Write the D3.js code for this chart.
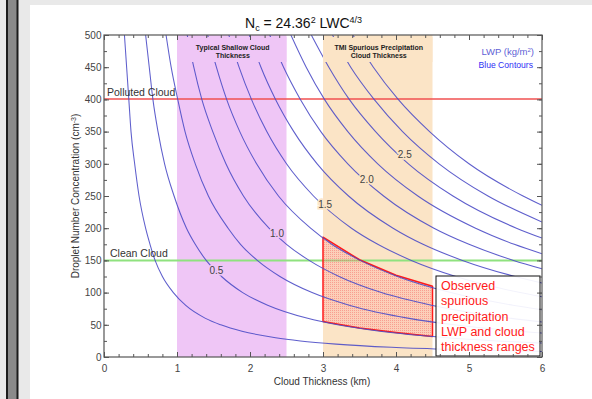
<!DOCTYPE html>
<html>
<head>
<meta charset="utf-8">
<script src="https://cdn.jsdelivr.net/npm/d3@7"></script>
<style>
  body { margin: 0; background: #e9e9e9; }
  svg { display: block; font-family: "Liberation Sans", Arial, Helvetica, sans-serif; }
</style>
</head>
<body>
<svg width="592" height="399"></svg>
<script>
// LWP contour levels (kg/m2) and points: [thickness km, Nc cm-3]
const lwpLevels = [0.25, 0.5, 0.75, 1.0, 1.25, 1.5, 1.75, 2.0, 2.25, 2.5, 2.75, 3.0];
const contourPoints = [
  [[0.28,500],[0.31,450],[0.34,400],[0.37,350],[0.42,300],[0.48,250],[0.57,200],[0.63,175],[0.70,150],[0.80,125],[0.95,100],[1.12,80],[1.39,60],[1.60,50],[1.89,40],[2.35,30],[2.69,25],[3.18,20],[3.94,15],[4.66,12],[6,8.6]],
  [[0.57,500],[0.62,450],[0.67,400],[0.74,350],[0.83,300],[0.96,250],[1.13,200],[1.25,175],[1.40,150],[1.61,125],[1.90,100],[2.25,80],[2.79,60],[3.20,50],[3.78,40],[4.69,30],[5.38,25],[6,21.6]],
  [[0.85,500],[0.92,450],[1.01,400],[1.11,350],[1.25,300],[1.43,250],[1.70,200],[1.87,175],[2.10,150],[2.41,125],[2.85,100],[3.37,80],[4.18,60],[4.80,50],[5.67,40],[6,37.1]],
  [[1.14,500],[1.23,450],[1.34,400],[1.49,350],[1.67,300],[1.91,250],[2.26,200],[2.50,175],[2.81,150],[3.22,125],[3.80,100],[4.50,80],[5.58,60],[6,54.4]],
  [[1.42,500],[1.54,450],[1.68,400],[1.86,350],[2.09,300],[2.39,250],[2.83,200],[3.12,175],[3.51,150],[4.02,125],[4.75,100],[5.62,80],[6,73.3]],
  [[1.71,500],[1.85,450],[2.02,400],[2.23,350],[2.50,300],[2.87,250],[3.39,200],[3.75,175],[4.21,150],[4.82,125],[5.70,100],[6,93.4]],
  [[1.99,500],[2.15,450],[2.35,400],[2.60,350],[2.92,300],[3.35,250],[3.96,200],[4.37,175],[4.91,150],[5.63,125],[6,114.8]],
  [[2.27,500],[2.46,450],[2.69,400],[2.97,350],[3.34,300],[3.83,250],[4.52,200],[5.00,175],[5.61,150],[6,137.1]],
  [[2.56,500],[2.77,450],[3.02,400],[3.34,350],[3.75,300],[4.30,250],[5.09,200],[5.62,175],[6,160.4]],
  [[2.84,500],[3.08,450],[3.36,400],[3.72,350],[4.17,300],[4.78,250],[5.65,200],[6,184.6]],
  [[3.13,500],[3.38,450],[3.70,400],[4.09,350],[4.59,300],[5.26,250],[6,209.7]],
  [[3.41,500],[3.69,450],[4.03,400],[4.46,350],[5.00,300],[5.74,250],[6,235.5]]
];

// inline contour labels
const contourLabels = ['0.5', '1.0', '1.5', '2.0', '2.5'];
const contourLabelPos = [[1.54,135], [2.37,192], [3.03,237], [3.60,276], [4.12,315]];

// thickness bands
const bandRanges = [[1, 2.5], [3, 4.5]];
const bandTitles = [['Typical Shallow Cloud', 'Thickness'], ['TMI Spurious Precipitation', 'Cloud Thickness']];

// reference droplet concentrations
const refValues = [400, 150];
const refNames = ['Polluted Cloud', 'Clean Cloud'];

// observed spurious precipitation region
const obsTop = [[3,186],[3.5,151],[4,127],[4.5,110]];
const obsBottom = [[3,55],[3.5,45],[4,38],[4.5,32]];
const obsText = ['Observed', 'spurious', 'precipitation', 'LWP and cloud', 'thickness ranges'];

const xTicks = d3.range(0, 7, 1);
const yTicks = d3.range(0, 501, 50);

// ---------------------------------------------------------------
const svg = d3.select('svg');
const L = 104, R = 542, T = 35, B = 357;
const x = d3.scaleLinear().domain([0, 6]).range([L, R]);
const y = d3.scaleLinear().domain([0, 500]).range([B, T]);

const PINK = '#efc6f6', ORANGE = '#fbe4c6', LINE = '#4c4cc6';

// page decoration
svg.append('rect').attr('x', 30).attr('y', 5).attr('width', 562).attr('height', 394).attr('fill', '#fff');
svg.append('rect').attr('x', 7).attr('y', -2).attr('width', 10.5).attr('height', 403)
  .attr('fill', '#8a8a8a').attr('stroke', '#1c1c1c').attr('stroke-width', 2);

const defs = svg.append('defs');
defs.append('clipPath').attr('id', 'plot').append('rect')
  .attr('x', L).attr('y', T).attr('width', R - L).attr('height', B - T);
const pat = defs.append('pattern').attr('id', 'dots').attr('width', 2).attr('height', 2)
  .attr('patternUnits', 'userSpaceOnUse');
pat.append('rect').attr('width', 2).attr('height', 2).attr('fill', 'rgba(255,150,150,0.28)');
pat.append('rect').attr('x', 0).attr('y', 0).attr('width', 1).attr('height', 1).attr('fill', 'rgba(240,70,70,0.35)');

// bands
const bandColors = [PINK, ORANGE];
bandRanges.forEach((b, i) => {
  svg.append('rect')
    .attr('x', x(b[0])).attr('y', T)
    .attr('width', x(b[1]) - x(b[0])).attr('height', B - T)
    .attr('fill', bandColors[i]);
});

// reference lines
svg.append('line').attr('x1', L).attr('x2', R).attr('y1', Math.round(y(refValues[0]))).attr('y2', Math.round(y(refValues[0])))
  .attr('stroke', '#f05050').attr('stroke-width', 1.3);
svg.append('line').attr('x1', L).attr('x2', R).attr('y1', y(refValues[1])).attr('y2', y(refValues[1]))
  .attr('stroke', '#8fe27f').attr('stroke-width', 2);

// observed region
const obsPoly = obsTop.concat(obsBottom.slice().reverse());
svg.append('path')
  .attr('d', d3.line().x(d => x(d[0])).y(d => y(d[1])).curve(d3.curveLinearClosed)(obsPoly))
  .attr('fill', 'url(#dots)')
  .attr('stroke', '#ff1a1a').attr('stroke-width', 1.5).attr('stroke-linejoin', 'round');

// contours
const line = d3.line().x(d => x(d[0])).y(d => y(d[1])).curve(d3.curveMonotoneX);
const cg = svg.append('g').attr('clip-path', 'url(#plot)');
contourPoints.forEach(pts => {
  cg.append('path').attr('d', line(pts))
    .attr('fill', 'none').attr('stroke', LINE).attr('stroke-width', 1.05).attr('stroke-opacity', 0.9);
});

// band title boxes
bandRanges.forEach((b, i) => {
  svg.append('rect')
    .attr('x', x(b[0])).attr('y', T + 2)
    .attr('width', x(b[1]) - x(b[0])).attr('height', 25)
    .attr('fill', bandColors[i]);
  bandTitles[i].forEach((t, j) => {
    svg.append('text')
      .attr('x', (x(b[0]) + x(b[1])) / 2 + 1).attr('y', 49.5 + j * 8)
      .attr('text-anchor', 'middle')
      .attr('font-size', 7).attr('font-weight', 'bold').attr('fill', '#222')
      .text(t);
  });
});

// contour labels with halo matching the band behind
function bgAt(h) {
  for (let i = 0; i < bandRanges.length; i++) {
    if (h >= bandRanges[i][0] && h <= bandRanges[i][1]) return bandColors[i];
  }
  return '#fff';
}
contourLabels.forEach((t, i) => {
  const p = contourLabelPos[i];
  svg.append('text')
    .attr('x', x(p[0])).attr('y', y(p[1]) + 4)
    .attr('text-anchor', 'middle')
    .attr('font-size', 10).attr('fill', '#444')
    .attr('stroke', bgAt(p[0])).attr('stroke-width', 3).attr('paint-order', 'stroke')
    .text(t);
});

// reference line labels
svg.append('text').attr('x', 107).attr('y', y(refValues[0]) - 3.5)
  .attr('font-size', 10.5).attr('fill', '#333').text(refNames[0]);
svg.append('text').attr('x', 110).attr('y', y(refValues[1]) - 3)
  .attr('font-size', 10.5).attr('fill', '#333').text(refNames[1]);

// legend
svg.append('text').attr('x', 534).attr('y', 55).attr('text-anchor', 'end')
  .attr('font-size', 9.5).attr('fill', '#5f5fd6')
  .call(t => {
    t.append('tspan').text('LWP (kg/m');
    t.append('tspan').attr('font-size', 6).attr('dy', -3.5).text('2');
    t.append('tspan').attr('dy', 3.5).text(')');
  });
svg.append('text').attr('x', 533).attr('y', 68).attr('text-anchor', 'end')
  .attr('font-size', 8.6).attr('fill', '#2f2ff5').text('Blue Contours');

// annotation box
svg.append('rect').attr('x', 436).attr('y', 276).attr('width', 104).attr('height', 80)
  .attr('fill', '#fff').attr('fill-opacity', 0.92).attr('stroke', '#111').attr('stroke-width', 1);
obsText.forEach((t, i) => {
  svg.append('text').attr('x', 441).attr('y', 290 + i * 15.3)
    .attr('font-size', 12.5).attr('fill', '#ff1a1a').text(t);
});

// axes
const tickStyle = g => {
  g.select('.domain').remove();
  g.selectAll('line').attr('stroke', '#555');
  g.selectAll('text').attr('fill', '#444').attr('font-size', 10)
    .attr('font-family', '"Liberation Sans", Arial, sans-serif');
};
const xMinor = d3.range(0, 6.01, 0.2);
const yMinor = d3.range(0, 501, 25);

svg.append('g').attr('transform', `translate(0,${B})`)
  .call(d3.axisBottom(x).tickValues(xMinor).tickFormat('').tickSize(-3)).call(tickStyle);
svg.append('g').attr('transform', `translate(0,${B})`)
  .call(d3.axisBottom(x).tickValues(xTicks).tickFormat(d3.format('d')).tickSize(-5).tickPadding(7.5)).call(tickStyle);
svg.append('g').attr('transform', `translate(0,${T})`)
  .call(d3.axisTop(x).tickValues(xMinor).tickFormat('').tickSize(-3)).call(tickStyle);
svg.append('g').attr('transform', `translate(0,${T})`)
  .call(d3.axisTop(x).tickValues(xTicks).tickFormat('').tickSize(-5)).call(tickStyle);

svg.append('g').attr('transform', `translate(${L},0)`)
  .call(d3.axisLeft(y).tickValues(yMinor).tickFormat('').tickSize(-3)).call(tickStyle);
svg.append('g').attr('transform', `translate(${L},0)`)
  .call(d3.axisLeft(y).tickValues(yTicks).tickFormat(d3.format('d')).tickSize(-5).tickPadding(2.5)).call(tickStyle);
svg.append('g').attr('transform', `translate(${R},0)`)
  .call(d3.axisRight(y).tickValues(yMinor).tickFormat('').tickSize(-3)).call(tickStyle);
svg.append('g').attr('transform', `translate(${R},0)`)
  .call(d3.axisRight(y).tickValues(yTicks).tickFormat('').tickSize(-5)).call(tickStyle);

svg.append('rect').attr('x', L).attr('y', T).attr('width', R - L).attr('height', B - T)
  .attr('fill', 'none').attr('stroke', '#555').attr('stroke-width', 1.2);

// title
svg.append('text').attr('x', 245).attr('y', 28).attr('font-size', 14).attr('fill', '#111')
  .call(t => {
    t.append('tspan').text('N');
    t.append('tspan').attr('font-size', 9).attr('dy', 3).text('c');
    t.append('tspan').attr('dy', -3).text(' = 24.36');
    t.append('tspan').attr('font-size', 9).attr('dy', -5).text('2');
    t.append('tspan').attr('dy', 5).text(' LWC');
    t.append('tspan').attr('font-size', 9).attr('dy', -5).text('4/3');
  });

// axis titles
svg.append('text').attr('x', 322).attr('y', 385).attr('text-anchor', 'middle')
  .attr('font-size', 10).attr('fill', '#333').text('Cloud Thickness (km)');
svg.append('text').attr('transform', 'translate(79,196) rotate(-90)').attr('text-anchor', 'middle')
  .attr('font-size', 10).attr('fill', '#333')
  .call(t => {
    t.append('tspan').text('Droplet Number Concentration (cm');
    t.append('tspan').attr('font-size', 7).attr('dy', -3.5).text('-3');
    t.append('tspan').attr('dy', 3.5).text(')');
  });
</script>
</body>
</html>
